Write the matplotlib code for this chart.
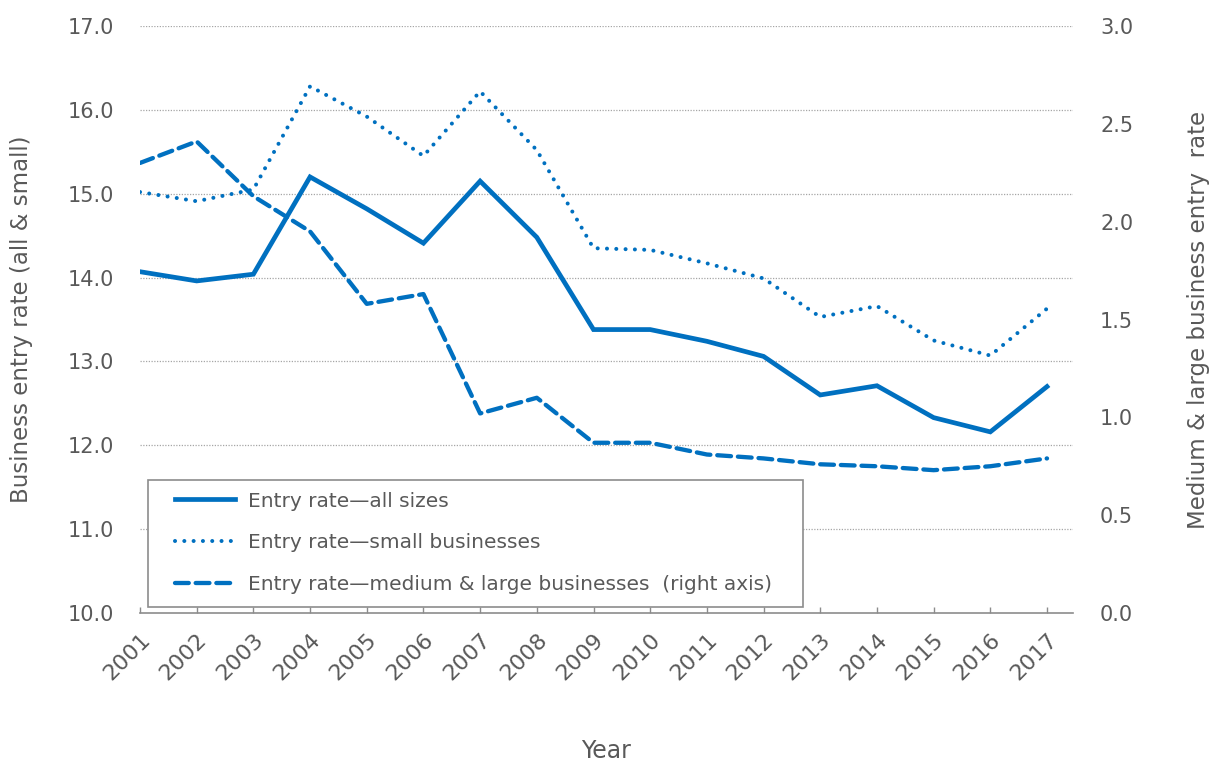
import matplotlib
matplotlib.use("Agg")
import matplotlib.pyplot as plt
from matplotlib.lines import Line2D
from matplotlib.patches import Rectangle

plt.rcParams['font.family'] = ['DejaVu Sans']

years = [str(y) for y in range(2001, 2018)]
all_sizes = [14.07, 13.96, 14.04, 15.20, 14.82, 14.41, 15.15, 14.48, 13.38, 13.38,
             13.24, 13.06, 12.60, 12.71, 12.33, 12.16, 12.70]
small = [15.02, 14.91, 15.05, 16.28, 15.92, 15.45, 16.22, 15.52, 14.35, 14.33,
         14.17, 13.99, 13.53, 13.66, 13.25, 13.07, 13.63]
med_large = [2.30, 2.41, 2.13, 1.95, 1.58, 1.63, 1.02, 1.10, 0.87, 0.87,
             0.81, 0.79, 0.76, 0.75, 0.73, 0.75, 0.79]

left_ticks = [10.0, 11.0, 12.0, 13.0, 14.0, 15.0, 16.0, 17.0]
right_ticks = [0.0, 0.5, 1.0, 1.5, 2.0, 2.5, 3.0]

BLUE = '#0070C0'
TXT = '#595959'
GRID = '#a6a6a6'
PX = 0.75  # points per pixel at dpi 100

W, H = 1212, 761
fig = plt.figure(figsize=(W / 100, H / 100), dpi=100)
x0, x1, y0, y1 = 140, 1073, 26, 613
ax = fig.add_axes([x0 / W, 1 - y1 / H, (x1 - x0) / W, (y1 - y0) / H])
ax2 = ax.twinx()

x = list(range(len(years)))
ax.set_xlim(0, (x1 - x0) / ((1047 - 140) / 16))
ax.set_ylim(10, 17)
ax2.set_ylim(0, 3)

for v in left_ticks[1:]:
    ax.axhline(v, color=GRID, lw=0.9, ls=(0, (1, 1.2)), zorder=1)

DOT = (0, (0.01, 2.3))
DASH = (0, (3.2, 1.6))
ax.plot(x, all_sizes, color=BLUE, lw=3.4, solid_joinstyle='miter', zorder=3)
ax.plot(x, small, color=BLUE, lw=2.9, ls=DOT, dash_capstyle='round', zorder=3)
ax2.plot(x, med_large, color=BLUE, lw=3.1, ls=DASH, dash_capstyle='round', zorder=3)

for a in (ax, ax2):
    for s in ('left', 'right', 'top'):
        a.spines[s].set_visible(False)
ax2.spines['bottom'].set_visible(False)
ax.spines['bottom'].set_color('#8c8c8c')
ax.spines['bottom'].set_linewidth(1.2)

ax.set_xticks(x)
ax.set_xticklabels(years, rotation=45, ha='right', va='top', rotation_mode='anchor')
ax.tick_params(axis='x', direction='in', length=4.5, width=1, color='#8c8c8c',
               labelsize=16, labelcolor=TXT, pad=12)
ax.set_yticks(left_ticks)
ax.set_yticklabels([f'{v:.1f}' for v in left_ticks])
ax.tick_params(axis='y', length=0, labelsize=15, labelcolor=TXT, pad=25 * PX)
ax2.set_yticks(right_ticks)
ax2.set_yticklabels([f'{v:.1f}' for v in right_ticks])
ax2.tick_params(axis='y', length=0, labelsize=15, labelcolor=TXT, pad=26 * PX)

ax.set_ylabel('Business entry rate (all & small)', fontsize=16.5, color=TXT)
ax.yaxis.set_label_coords((22 - x0) / (x1 - x0), 0.5)
ax2.set_ylabel('Medium & large business entry  rate', fontsize=16.5, color=TXT, rotation=90)
ax2.yaxis.set_label_coords((1199 - x0) / (x1 - x0), 0.5)
ax.set_xlabel('Year', fontsize=17, color=TXT)
ax.xaxis.set_label_coords(0.5, -(751 - y1) / (y1 - y0))
ax.xaxis.label.set_va('center')
ax2.yaxis.label.set_va('center')
ax.yaxis.label.set_va('center')

# legend frame (drawn separately so padding matches the reference)
fig.add_artist(Rectangle((148 / W, 1 - 607 / H), (803 - 148) / W, (607 - 480) / H,
                         transform=fig.transFigure, facecolor='white',
                         edgecolor='#8c8c8c', lw=1.2, zorder=4))

handles = [
    Line2D([], [], color=BLUE, lw=3.4),
    Line2D([], [], color=BLUE, lw=2.9, ls=DOT, dash_capstyle='round'),
    Line2D([], [], color=BLUE, lw=3.1, ls=DASH, dash_capstyle='round'),
]
labels = ['Entry rate\u2014all sizes', 'Entry rate\u2014small businesses',
          'Entry rate\u2014medium & large businesses  (right axis)']
leg = fig.legend(handles, labels, loc='center left',
                 bbox_to_anchor=(175 / W, 1 - 543 / H),
                 frameon=False, fontsize=14.5, labelcolor=TXT,
                 handlelength=3.0, handletextpad=0.62, labelspacing=1.14,
                 borderpad=0, borderaxespad=0)
leg.set_zorder(6)

fig.savefig('out.png', dpi=100)
